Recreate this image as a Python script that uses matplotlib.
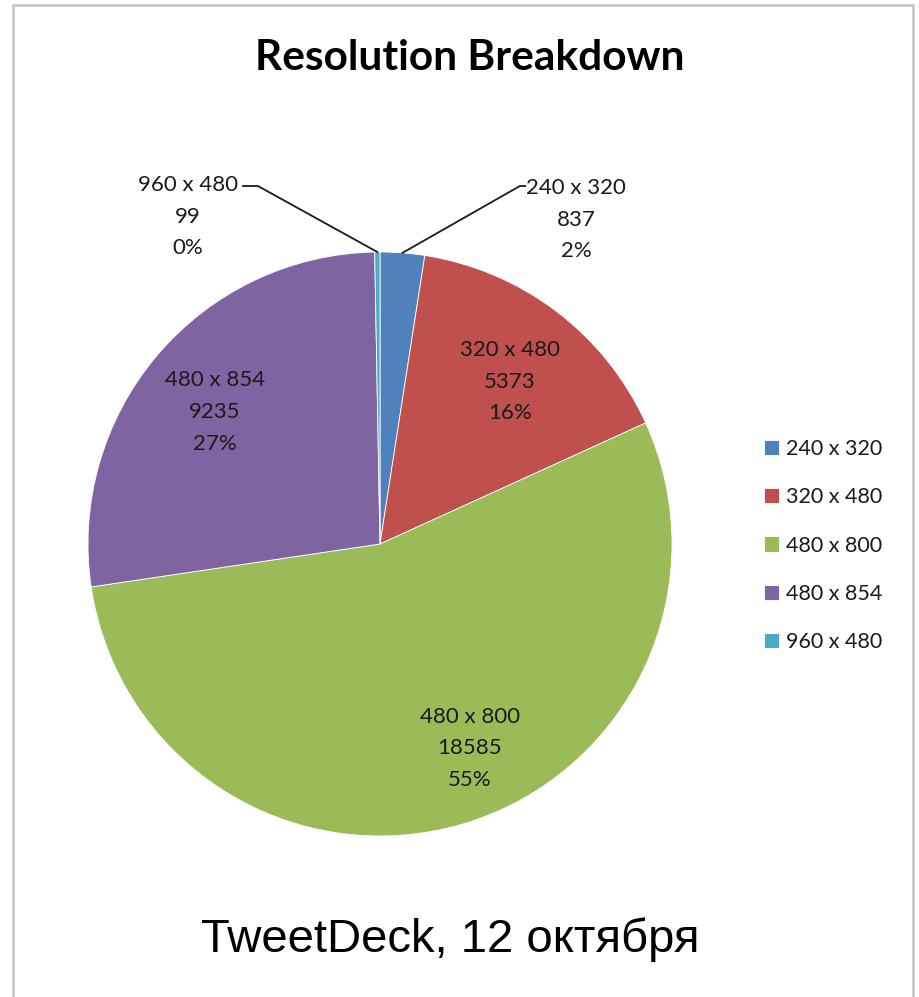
import matplotlib
matplotlib.use('Agg')
import matplotlib.pyplot as plt
from matplotlib.patches import Rectangle
import numpy as np

# data
resolutions = ['240 x 320', '320 x 480', '480 x 800', '480 x 854', '960 x 480']
counts = [837, 5373, 18585, 9235, 99]
percents = ['2%', '16%', '55%', '27%', '0%']
colors = ['#4F81BD', '#C0504D', '#9BBB59', '#8064A2', '#4BACC6']

# where Excel put the labels (pie data coords, radius = 1)
label_pos = [(0.671, 1.110), (0.445, 0.555), (0.308, -0.699), (-0.565, 0.452), (-0.658, 1.120)]
# elbow of the leader line for the outside labels
leaders = {0: ((0.479, 1.226), (0.497, 1.226)), 4: ((-0.418, 1.226), (-0.469, 1.226))}

W, H = 920, 997
fig = plt.figure(figsize=(W / 100, H / 100), dpi=100)
fig.patch.set_facecolor('white')

# grey chart frame
fig.add_artist(Rectangle((13 / W, -0.01), (913 - 13) / W, 1.01 - 5 / H, transform=fig.transFigure,
                         fill=False, edgecolor='#C4C4C4', linewidth=1.8))

cx, cy, r = 380, 544, 292
ax = fig.add_axes([(cx - r) / W, (H - cy - r) / H, 2 * r / W, 2 * r / H])
wedges, _ = ax.pie(counts, colors=colors, startangle=90, counterclock=False, radius=1,
                   wedgeprops=dict(linewidth=0.6, edgecolor='white'))
ax.set_xlim(-1, 1)
ax.set_ylim(-1, 1)
ax.set_aspect('equal')
ax.axis('off')

for i, w in enumerate(wedges):
    txt = '%s\n%d\n%s' % (resolutions[i], counts[i], percents[i])
    ax.text(label_pos[i][0], label_pos[i][1], txt, ha='center', va='center', fontsize=16,
            family='Lato', linespacing=1.72, color='#1a1a1a', clip_on=False)
    if i in leaders:
        ang = np.deg2rad((w.theta1 + w.theta2) / 2)
        p0 = (np.cos(ang), np.sin(ang))
        p1, p2 = leaders[i]
        ax.plot([p0[0], p1[0], p2[0]], [p0[1], p1[1], p2[1]], color='#1a1a1a', lw=1.3,
                clip_on=False, solid_joinstyle='miter')

leg = fig.legend(wedges, resolutions, loc='center left', bbox_to_anchor=(753 / W, 1 - 545.5 / H),
                 frameon=False, borderpad=0, handlelength=0.7, handleheight=0.7, handletextpad=0.35,
                 labelspacing=1.32, prop={'family': 'Lato', 'size': 15.5})
for t in leg.get_texts():
    t.set_color('#1a1a1a')

fig.text(470 / W, 1 - 70 / H, 'Resolution Breakdown', ha='center', va='baseline',
         fontsize=30.5, fontweight='bold', family='Lato')
fig.text(450 / W, 1 - 952 / H, 'TweetDeck, 12 октября', ha='center', va='baseline',
         fontsize=34, family='Liberation Sans')

fig.savefig('out.png', dpi=100)
